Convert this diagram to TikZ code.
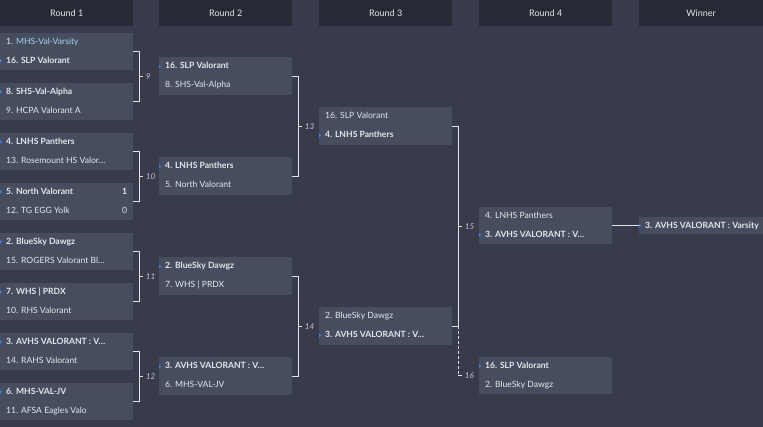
\documentclass[tikz,border=0pt]{standalone}
\usepackage{fontspec}
\setmainfont{Lato}
\usetikzlibrary{positioning}
\definecolor{pagebg}{HTML}{373B4B}
\definecolor{headbg}{HTML}{272A35}
\definecolor{boxbg}{HTML}{464D5E}
\definecolor{teamtext}{HTML}{E4E7EC}
\definecolor{hovertext}{HTML}{A9D4F2}
\definecolor{labeltext}{HTML}{C3C8D2}
\definecolor{bracketline}{HTML}{E2E2E2}
\definecolor{markblue}{HTML}{3D7FE0}

\begin{document}
\begin{tikzpicture}[
    x=1pt, y=-1pt,
    header/.style={fill=headbg, minimum width=133pt, minimum height=26pt, anchor=north west, inner sep=0, text=teamtext, font=\fontsize{9}{10}\selectfont},
    match/.style={fill=boxbg, minimum width=133pt, minimum height=37pt, anchor=north west, inner sep=0},
    team/.style={anchor=west, inner sep=0, text=teamtext, font=\fontsize{8.6}{10}\selectfont, text height=6.5pt, text depth=1.5pt},
    won/.style={team, font=\fontsize{8.6}{10}\selectfont\bfseries},
    score/.style={team, anchor=east},
    bracket/.style={draw=bracketline, line width=1pt},
    round/.style={anchor=west, inner sep=0, text=labeltext, font=\fontsize{8}{9}\selectfont\itshape, xshift=2pt},
]
    \fill[pagebg] (0,0) rectangle (763,427);
    \useasboundingbox (0,0) rectangle (763,427);

    % Column headers
    \node[header] (h1) at (0,0) {Round 1};
    \node[header] (h2) at (159,0) {Round 2};
    \node[header] (h3) at (319,0) {Round 3};
    \node[header] (h4) at (479,0) {Round 4};
    \node[header, minimum width=124pt] (h5) at (639,0) {Winner};

    % Round 1
    \node[match] (r1a) at (0,33) {};
    \node[match] (r1b) at (0,83) {};
    \node[match] (r1c) at (0,133) {};
    \node[match] (r1d) at (0,183) {};
    \node[match] (r1e) at (0,233) {};
    \node[match] (r1f) at (0,283) {};
    \node[match] (r1g) at (0,333) {};
    \node[match] (r1h) at (0,383) {};
    \node[team] (r1a-1) at ([xshift=6pt, yshift=-9pt]r1a.north west) {1. \textcolor{hovertext}{MHS-Val-Varsity}};
    \node[won] (r1a-2) at ([xshift=6pt, yshift=-28pt]r1a.north west) {16. SLP Valorant};
    \node[won] (r1b-1) at ([xshift=6pt, yshift=-9pt]r1b.north west) {8. SHS-Val-Alpha};
    \node[team] (r1b-2) at ([xshift=6pt, yshift=-28pt]r1b.north west) {9. HCPA Valorant A};
    \node[won] (r1c-1) at ([xshift=6pt, yshift=-9pt]r1c.north west) {4. LNHS Panthers};
    \node[team] (r1c-2) at ([xshift=6pt, yshift=-28pt]r1c.north west) {13. Rosemount HS Valor…};
    \node[won] (r1d-1) at ([xshift=6pt, yshift=-9pt]r1d.north west) {5. North Valorant};
    \node[team] (r1d-2) at ([xshift=6pt, yshift=-28pt]r1d.north west) {12. TG EGG Yolk};
    \node[won, anchor=east] (r1d-s1) at ([xshift=-6pt, yshift=-9pt]r1d.north east) {1};
    \node[score] (r1d-s2) at ([xshift=-6pt, yshift=-28pt]r1d.north east) {0};
    \node[won] (r1e-1) at ([xshift=6pt, yshift=-9pt]r1e.north west) {2. BlueSky Dawgz};
    \node[team] (r1e-2) at ([xshift=6pt, yshift=-28pt]r1e.north west) {15. ROGERS Valorant Bl…};
    \node[won] (r1f-1) at ([xshift=6pt, yshift=-9pt]r1f.north west) {7. WHS | PRDX};
    \node[team] (r1f-2) at ([xshift=6pt, yshift=-28pt]r1f.north west) {10. RHS Valorant};
    \node[won] (r1g-1) at ([xshift=6pt, yshift=-9pt]r1g.north west) {3. AVHS VALORANT : V…};
    \node[team] (r1g-2) at ([xshift=6pt, yshift=-28pt]r1g.north west) {14. RAHS Valorant};
    \node[won] (r1h-1) at ([xshift=6pt, yshift=-9pt]r1h.north west) {6. MHS-VAL-JV};
    \node[team] (r1h-2) at ([xshift=6pt, yshift=-28pt]r1h.north west) {11. AFSA Eagles Valo};

    % Round 2
    \node[match, minimum height=38pt] (r2a) at (159,57) {};
    \node[match, minimum height=38pt] (r2b) at (159,157) {};
    \node[match, minimum height=38pt] (r2c) at (159,257) {};
    \node[match, minimum height=38pt] (r2d) at (159,357) {};
    \node[won] (r2a-1) at ([xshift=6pt, yshift=-9.5pt]r2a.north west) {16. SLP Valorant};
    \node[team] (r2a-2) at ([xshift=6pt, yshift=-28.5pt]r2a.north west) {8. SHS-Val-Alpha};
    \node[won] (r2b-1) at ([xshift=6pt, yshift=-9.5pt]r2b.north west) {4. LNHS Panthers};
    \node[team] (r2b-2) at ([xshift=6pt, yshift=-28.5pt]r2b.north west) {5. North Valorant};
    \node[won] (r2c-1) at ([xshift=6pt, yshift=-9.5pt]r2c.north west) {2. BlueSky Dawgz};
    \node[team] (r2c-2) at ([xshift=6pt, yshift=-28.5pt]r2c.north west) {7. WHS | PRDX};
    \node[won] (r2d-1) at ([xshift=6pt, yshift=-9.5pt]r2d.north west) {3. AVHS VALORANT : V…};
    \node[team] (r2d-2) at ([xshift=6pt, yshift=-28.5pt]r2d.north west) {6. MHS-VAL-JV};

    % Round 3
    \node[match, minimum height=38pt] (r3a) at (319,107) {};
    \node[match, minimum height=38pt] (r3b) at (319,307) {};
    \node[team] (r3a-1) at ([xshift=6pt, yshift=-9.5pt]r3a.north west) {16. SLP Valorant};
    \node[won] (r3a-2) at ([xshift=6pt, yshift=-28.5pt]r3a.north west) {4. LNHS Panthers};
    \node[team] (r3b-1) at ([xshift=6pt, yshift=-9.5pt]r3b.north west) {2. BlueSky Dawgz};
    \node[won] (r3b-2) at ([xshift=6pt, yshift=-28.5pt]r3b.north west) {3. AVHS VALORANT : V…};

    % Round 4
    \node[match] (r4a) at (479,207) {};
    \node[match] (r4b) at (479,357) {};
    \node[team] (r4a-1) at ([xshift=6pt, yshift=-9pt]r4a.north west) {4. LNHS Panthers};
    \node[won] (r4a-2) at ([xshift=6pt, yshift=-28pt]r4a.north west) {3. AVHS VALORANT : V…};
    \node[won] (r4b-1) at ([xshift=6pt, yshift=-9pt]r4b.north west) {16. SLP Valorant};
    \node[team] (r4b-2) at ([xshift=6pt, yshift=-28pt]r4b.north west) {2. BlueSky Dawgz};

    % Winner
    \node[match, minimum width=124pt, minimum height=17pt] (w) at (639,217) {};
    \node[won] (w-1) at ([xshift=6pt]w.west) {3. AVHS VALORANT : Varsity};

    % Winner markers
    \foreach \b/\t in {r1a/r1a-2, r1b/r1b-1, r1c/r1c-1, r1d/r1d-1, r1e/r1e-1, r1f/r1f-1, r1g/r1g-1, r1h/r1h-1,
                       r2a/r2a-1, r2b/r2b-1, r2c/r2c-1, r2d/r2d-1, r3a/r3a-2, r3b/r3b-2, r4a/r4a-2, r4b/r4b-1, w/w-1}
        \fill[markblue] (\b.west |- \t.west) ++(0,-2) -- ++(2,2) -- ++(-2,2) -- cycle;

    % Brackets
    \foreach \p/\q/\n in {r1a/r1b/9, r1c/r1d/10, r1e/r1f/11, r1g/r1h/12, r2a/r2b/13, r2c/r2d/14} {
        \draw[bracket] (\p.east) -- ++(6,0) coordinate (b\n) -- coordinate[pos=0.5] (m\n) (b\n |- \q.east) -- (\q.east);
        \draw[bracket] (m\n) -- ++(4,0) node[round] {\n};
    }
    \draw[bracket] (r3a.east) -- ++(6,0) coordinate (b15) -- coordinate[pos=0.5] (m15) (b15 |- r3b.east) coordinate (c15) -- (r3b.east);
    \draw[bracket] (m15) -- ++(4,0) node[round] {15};
    \draw[bracket, dash pattern=on 3pt off 2pt] (c15) -- (c15 |- r4b.west) coordinate (d16);
    \draw[bracket] (d16) -- ++(4,0) node[round] {16};
    \draw[bracket] (r4a.east) -- (w.west);
\end{tikzpicture}
\end{document}
